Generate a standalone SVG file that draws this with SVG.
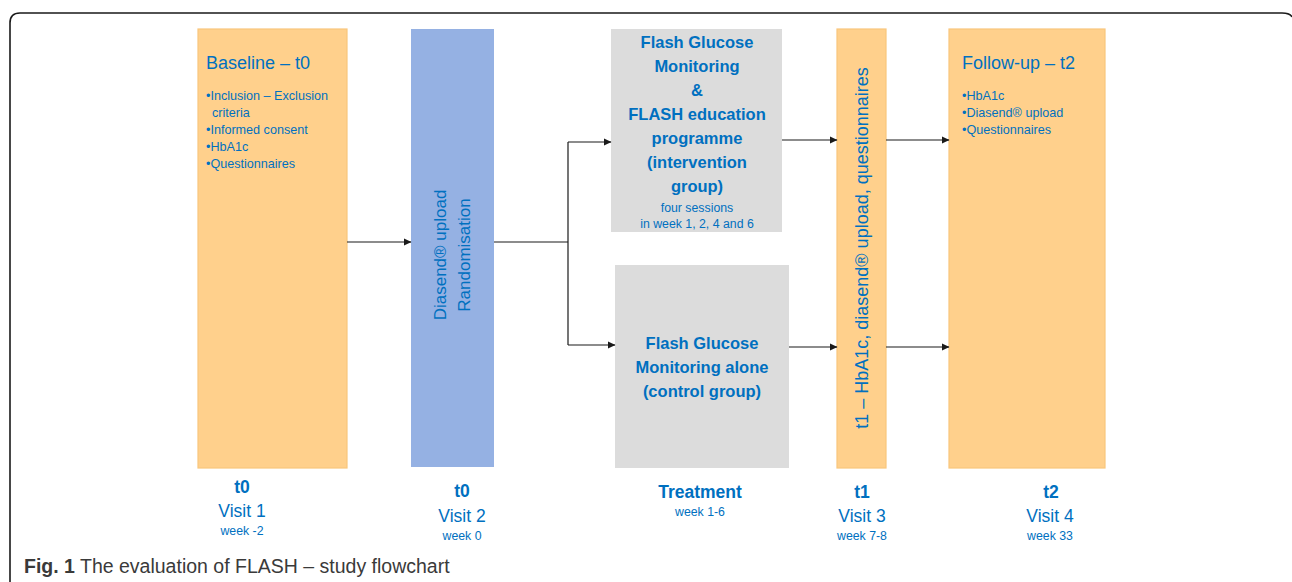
<svg xmlns="http://www.w3.org/2000/svg" width="1292" height="582" viewBox="0 0 1292 582">
<style>
text{font-family:"Liberation Sans",Arial,sans-serif;fill:#0070C0}
.h{font-size:18px}
.b{font-size:12.6px}
.bold{font-weight:bold;font-size:16.5px}
.lab{font-weight:bold;font-size:17.5px}
.sm{font-size:12.3px}
.visit{font-size:17.5px}
.rot{font-size:17px}
.rot2{font-size:18px}
.orange{fill:#FFD08C;stroke:#F9C67C;stroke-width:1.2}
.blue{fill:#95B1E3}
.grey{fill:#DCDCDC}
.conn{stroke:#1a1a1a;stroke-width:1.2;fill:none}
.cap{fill:#3a3a3a;font-size:19.5px}
</style>
<defs>
<marker id="arr" markerWidth="8" markerHeight="8" refX="7" refY="4" orient="auto" markerUnits="userSpaceOnUse">
<path d="M0,0.5 L7.5,4 L0,7.5 Z" fill="#1a1a1a"/>
</marker>
</defs>
<rect width="1292" height="582" fill="#fff"/>
<path d="M10,582 L10,23 Q10,13 20,13 L1282,13 Q1290,13 1292,17" fill="none" stroke="#1a1a1a" stroke-width="1.6"/>

<g id="baseline">
<rect class="orange" x="198" y="29" width="149" height="439"/>
<text class="h" x="206" y="69">Baseline – t0</text>
<text class="b" x="206" y="100">•Inclusion – Exclusion</text>
<text class="b" x="212" y="117">criteria</text>
<text class="b" x="206" y="134">•Informed consent</text>
<text class="b" x="206" y="151">•HbA1c</text>
<text class="b" x="206" y="168">•Questionnaires</text>
</g>

<g id="randomisation">
<rect class="blue" x="411" y="29" width="83" height="438"/>
<text class="rot" transform="translate(446,255) rotate(-90)" text-anchor="middle">Diasend® upload</text>
<text class="rot" transform="translate(470,255) rotate(-90)" text-anchor="middle">Randomisation</text>
</g>

<g id="intervention">
<rect class="grey" x="611" y="29" width="171" height="203"/>
<g text-anchor="middle">
<text class="bold" x="697" y="48">Flash Glucose</text>
<text class="bold" x="697" y="72">Monitoring</text>
<text class="bold" x="697" y="96">&amp;</text>
<text class="bold" x="697" y="120">FLASH education</text>
<text class="bold" x="697" y="144">programme</text>
<text class="bold" x="697" y="168">(intervention</text>
<text class="bold" x="697" y="192">group)</text>
<text class="sm" x="697" y="212">four sessions</text>
<text class="sm" x="697" y="228">in week 1, 2, 4 and 6</text>
</g>
</g>

<g id="control">
<rect class="grey" x="615" y="265" width="174" height="203"/>
<g text-anchor="middle">
<text class="bold" x="702" y="349">Flash Glucose</text>
<text class="bold" x="702" y="373">Monitoring alone</text>
<text class="bold" x="702" y="397">(control group)</text>
</g>
</g>

<g id="t1">
<rect class="orange" x="837" y="29" width="49" height="439"/>
<text class="rot2" transform="translate(868,248) rotate(-90)" text-anchor="middle">t1 – HbA1c, diasend® upload, questionnaires</text>
</g>

<g id="followup">
<rect class="orange" x="949" y="29" width="156" height="439"/>
<text class="h" x="962" y="69">Follow-up – t2</text>
<text class="b" x="962" y="100">•HbA1c</text>
<text class="b" x="962" y="117">•Diasend® upload</text>
<text class="b" x="962" y="134">•Questionnaires</text>
</g>

<g id="connectors">
<line class="conn" x1="347" y1="242" x2="411" y2="242" marker-end="url(#arr)"/>
<polyline class="conn" points="494,242 568,242"/>
<polyline class="conn" points="568,142 568,345"/>
<line class="conn" x1="568" y1="142" x2="611" y2="142" marker-end="url(#arr)"/>
<line class="conn" x1="568" y1="345" x2="615" y2="345" marker-end="url(#arr)"/>
<line class="conn" x1="782" y1="140" x2="837" y2="140" marker-end="url(#arr)"/>
<line class="conn" x1="886" y1="140" x2="949" y2="140" marker-end="url(#arr)"/>
<line class="conn" x1="789" y1="347" x2="837" y2="347" marker-end="url(#arr)"/>
<line class="conn" x1="886" y1="347" x2="949" y2="347" marker-end="url(#arr)"/>
</g>

<g id="labels" text-anchor="middle">
<text class="lab" x="242" y="493">t0</text>
<text class="visit" x="242" y="517">Visit 1</text>
<text class="sm" x="242" y="535">week -2</text>
<text class="lab" x="462" y="497">t0</text>
<text class="visit" x="462" y="522">Visit 2</text>
<text class="sm" x="462" y="540">week 0</text>
<text class="lab" x="700" y="498">Treatment</text>
<text class="sm" x="700" y="516">week 1-6</text>
<text class="lab" x="862" y="498">t1</text>
<text class="visit" x="862" y="522">Visit 3</text>
<text class="sm" x="862" y="540">week 7-8</text>
<text class="lab" x="1051" y="498">t2</text>
<text class="visit" x="1050" y="522">Visit 4</text>
<text class="sm" x="1050" y="540">week 33</text>
</g>

<g id="caption">
<text class="cap" x="24" y="573"><tspan font-weight="bold">Fig. 1</tspan> The evaluation of FLASH – study flowchart</text>
</g>
</svg>
